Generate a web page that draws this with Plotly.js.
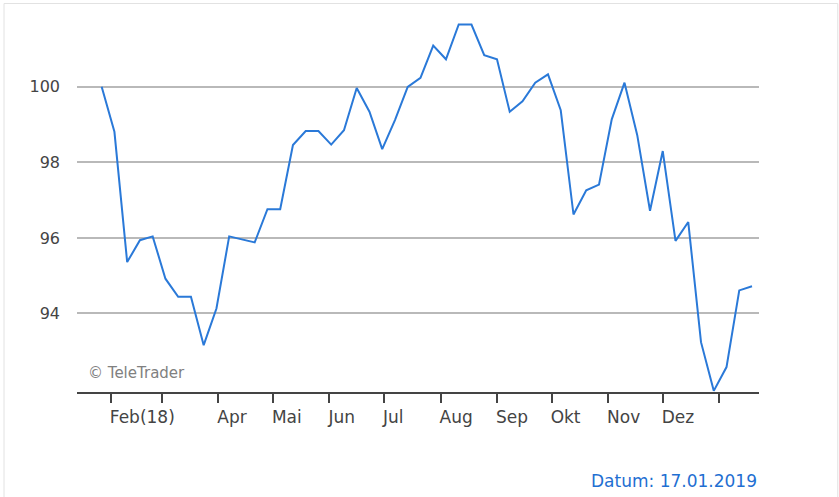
<!DOCTYPE html>
<html>
<head>
<meta charset="utf-8">
<script src="https://cdn.plot.ly/plotly-3.0.1.min.js"></script>
<style>
  html, body { margin: 0; padding: 0; background: #ffffff; }
  #chart { width: 839px; height: 497px; }
</style>
</head>
<body>
<div id="chart"></div>
<script>
// Weekly observation dates
const dates = [
  "2018-01-27","2018-02-03","2018-02-10","2018-02-17","2018-02-24",
  "2018-03-03","2018-03-10","2018-03-17","2018-03-24","2018-03-31",
  "2018-04-07","2018-04-14","2018-04-21","2018-04-28","2018-05-05",
  "2018-05-12","2018-05-19","2018-05-26","2018-06-02","2018-06-09",
  "2018-06-16","2018-06-23","2018-06-30","2018-07-07","2018-07-14",
  "2018-07-21","2018-07-28","2018-08-04","2018-08-11","2018-08-18",
  "2018-08-25","2018-09-01","2018-09-08","2018-09-15","2018-09-22",
  "2018-09-29","2018-10-06","2018-10-13","2018-10-20","2018-10-27",
  "2018-11-03","2018-11-10","2018-11-17","2018-11-24","2018-12-01",
  "2018-12-08","2018-12-15","2018-12-22","2018-12-29","2019-01-05",
  "2019-01-12","2019-01-19"
];

// Indexed values
const values = [
  100.00, 98.81, 95.36, 95.94, 96.04,
  94.92, 94.44, 94.44, 93.16, 94.13,
  96.04, 95.96, 95.88, 96.76, 96.76,
  98.46, 98.83, 98.83, 98.47, 98.85,
  99.97, 99.34, 98.35, 99.12, 100.00,
  100.24, 101.09, 100.73, 101.65, 101.65,
  100.84, 100.73, 99.34, 99.62, 100.11,
  100.33, 99.38, 96.62, 97.26, 97.41,
  99.14, 100.11, 98.72, 96.72, 98.30,
  95.92, 96.42, 93.24, 91.95, 92.58,
  94.61, 94.72
];

// Month ticks and their labels
const monthTicks = [
  "2018-02-01","2018-03-01","2018-04-01","2018-05-01","2018-06-01","2018-07-01",
  "2018-08-01","2018-09-01","2018-10-01","2018-11-01","2018-12-01","2019-01-01"
];
const monthLabels = ["Feb(18)","","Apr","Mai","Jun","Jul","Aug","Sep","Okt","Nov","Dez",""];

const yTicks = [94, 96, 98, 100];

const watermark = "\u00A9 TeleTrader";
const dateNote = "Datum: 17.01.2019";

const FONT = "DejaVu Sans, Verdana, sans-serif";

const trace = {
  type: "scatter",
  mode: "lines",
  x: dates,
  y: values,
  line: { color: "#2a79d8", width: 2 },
  hoverinfo: "skip"
};

const layout = {
  width: 839,
  height: 497,
  margin: { l: 77, r: 80, t: 20, b: 105 },
  paper_bgcolor: "#ffffff",
  plot_bgcolor: "rgba(0,0,0,0)",
  showlegend: false,
  xaxis: {
    type: "date",
    range: ["2018-01-13 11:00", "2019-01-22 20:00"],
    tickmode: "array",
    tickvals: monthTicks,
    ticktext: monthLabels,
    ticklabelposition: "outside right",
    ticklabelstandoff: 9,
    ticklabelshift: -3,
    ticks: "outside",
    ticklen: 9,
    tickwidth: 2,
    tickcolor: "#444444",
    showline: true,
    linecolor: "#444444",
    linewidth: 2,
    showgrid: false,
    zeroline: false,
    tickfont: { family: FONT, size: 17, color: "#444444" }
  },
  yaxis: {
    range: [91.92, 101.77],
    tickmode: "array",
    tickvals: yTicks,
    ticktext: yTicks.map(String),
    ticks: "",
    ticklabelstandoff: 16,
    showline: false,
    showgrid: true,
    gridcolor: "#b9b9b9",
    gridwidth: 2,
    zeroline: false,
    tickfont: { family: FONT, size: 16, color: "#444444" }
  },
  shapes: [
    {
      type: "rect", xref: "paper", yref: "paper",
      x0: -0.107, x1: 1.1155, y0: -0.31, y1: 1.0444,
      line: { color: "#e2e2e2", width: 1 },
      fillcolor: "rgba(0,0,0,0)",
      layer: "below"
    }
  ],
  annotations: [
    {
      text: watermark, xref: "paper", yref: "paper",
      x: 0.0135, y: 0.05, xanchor: "left", yanchor: "middle",
      showarrow: false,
      font: { family: FONT, size: 15, color: "#808080" }
    },
    {
      text: dateNote, xref: "paper", yref: "paper",
      x: 1.0, y: -0.239, xanchor: "right", yanchor: "middle",
      showarrow: false,
      font: { family: FONT, size: 17, color: "#1f6fd2" }
    }
  ]
};

Plotly.newPlot("chart", [trace], layout, { displayModeBar: false, staticPlot: true });
</script>
</body>
</html>
